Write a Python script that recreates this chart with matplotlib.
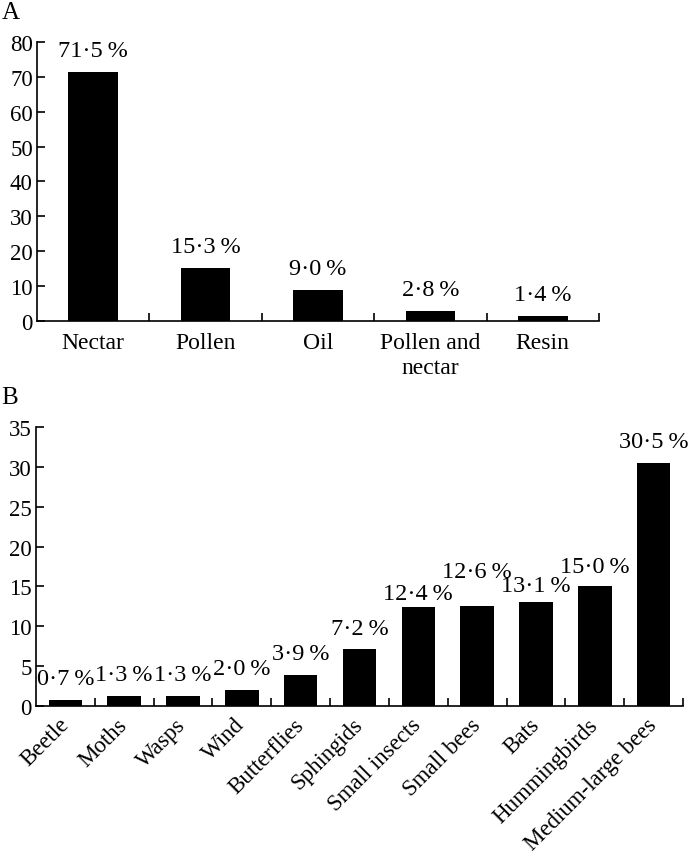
import numpy as np
import matplotlib
matplotlib.use("Agg")
import matplotlib.pyplot as plt

# panel A: floral reward
rewards = ['Nectar', 'Pollen', 'Oil', 'Pollen and\nnectar', 'Resin']
reward_pct = [71.5, 15.3, 9.0, 2.8, 1.4]

# panel B: pollination system
pollinators = ['Beetle', 'Moths', 'Wasps', 'Wind', 'Butterflies', 'Sphingids',
               'Small insects', 'Small bees', 'Bats', 'Hummingbirds',
               'Medium-large bees']
pollinator_pct = [0.7, 1.3, 1.3, 2.0, 3.9, 7.2, 12.4, 12.6, 13.1, 15.0, 30.5]

# vertical gap (px) between bar top and label baseline in panel B
label_gap_b = [16, 16, 16, 16, 16, 15, 8, 29, 11, 14, 16]

plt.rcParams['font.family'] = ['Liberation Serif', 'DejaVu Serif']
plt.rcParams['axes.linewidth'] = 1.2

PX = 72 / 100.0  # points per pixel at dpi 100


def fmt(v):
    return f'{v:.1f}'.replace('.', '\u00b7') + '\u2009%'


def style_axis(ax, n, ymax, ystep):
    ax.spines['top'].set_visible(False)
    ax.spines['right'].set_visible(False)
    ax.set_xlim(-0.5, n - 0.5)
    ax.set_ylim(0, ymax)
    ax.set_yticks(np.arange(0, ymax + 0.1, ystep))
    ax.tick_params(axis='y', direction='in', length=5.5, width=1.2,
                   labelsize=16.5, pad=3)
    ax.set_xticks(np.arange(n) + 0.5, minor=True)
    ax.tick_params(axis='x', which='minor', direction='in', length=6, width=1.2)
    ax.tick_params(axis='x', which='major', length=0, labelsize=17)


fig = plt.figure(figsize=(6.88, 8.53), dpi=100)

# ---- A ----
axA = fig.add_axes([0.0538, 0.6225, 0.8168, 0.3271])
xa = np.arange(len(rewards))
axA.bar(xa, reward_pct, width=0.44, color='black')
style_axis(axA, len(rewards), 80, 10)
axA.set_xticks(xa)
axA.set_xticklabels(rewards, linespacing=1.25)
axA.tick_params(axis='x', which='major', pad=8)
for x, v in zip(xa, reward_pct):
    axA.annotate(fmt(v), (x, v), xytext=(0, 16 * PX), textcoords='offset points',
                 ha='center', va='baseline', fontsize=17.5, annotation_clip=False)

# ---- B ----
axB = fig.add_axes([0.0523, 0.1712, 0.9404, 0.3271])
xb = np.arange(len(pollinators))
axB.bar(xb, pollinator_pct, width=0.57, color='black')
style_axis(axB, len(pollinators), 35, 5)
axB.set_xticks(xb)
axB.set_xticklabels(pollinators, rotation=45, ha='right', va='center',
                    rotation_mode='anchor', fontsize=16.5)
axB.tick_params(axis='x', which='major', pad=11)
for x, v, g in zip(xb, pollinator_pct, label_gap_b):
    axB.annotate(fmt(v), (x, v), xytext=(0, g * PX), textcoords='offset points',
                 ha='center', va='baseline', fontsize=17.5, annotation_clip=False)

fig.text(0.003, 0.998, 'A', fontsize=18, ha='left', va='top')
fig.text(0.002, 0.546, 'B', fontsize=18, ha='left', va='top')

fig.savefig('out.png', dpi=100)
